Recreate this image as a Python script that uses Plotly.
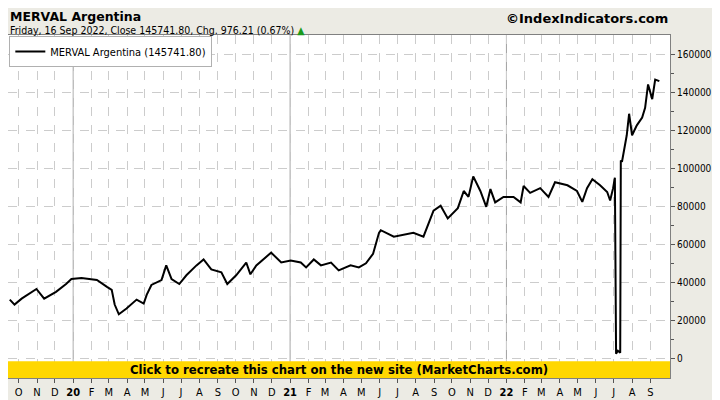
import plotly.graph_objects as go

# ── data ─────────────────────────────────────────────────────────────────────
dates = [
    "2019-09-16", "2019-09-24", "2019-10-06", "2019-10-31", "2019-11-13", "2019-12-03",
    "2019-12-20", "2019-12-29", "2020-01-15", "2020-02-10", "2020-02-27", "2020-03-06",
    "2020-03-11", "2020-03-18", "2020-03-31", "2020-04-17", "2020-04-29", "2020-05-04",
    "2020-05-12", "2020-05-29", "2020-06-06", "2020-06-15", "2020-06-28", "2020-07-10",
    "2020-07-27", "2020-08-08", "2020-08-21", "2020-09-07", "2020-09-17", "2020-10-02",
    "2020-10-19", "2020-10-26", "2020-11-05", "2020-11-17", "2020-11-30", "2020-12-17",
    "2021-01-02", "2021-01-19", "2021-01-28", "2021-02-10", "2021-02-22", "2021-03-11",
    "2021-03-24", "2021-04-13", "2021-04-27", "2021-05-09", "2021-05-21", "2021-05-31",
    "2021-06-03", "2021-06-25", "2021-07-28", "2021-08-14", "2021-08-31", "2021-09-12",
    "2021-09-24", "2021-10-11", "2021-10-21", "2021-10-29", "2021-11-06", "2021-11-18",
    "2021-11-28", "2021-12-05", "2021-12-13", "2021-12-27", "2022-01-13", "2022-01-25",
    "2022-01-30", "2022-02-10", "2022-02-27", "2022-03-13", "2022-03-24", "2022-04-14",
    "2022-04-30", "2022-05-09", "2022-05-17", "2022-05-26", "2022-06-08", "2022-06-20",
    "2022-06-25", "2022-06-30", "2022-07-03", "2022-07-05", "2022-07-08", "2022-07-12",
    "2022-07-13", "2022-07-15", "2022-07-23", "2022-07-27", "2022-08-01", "2022-08-09",
    "2022-08-18", "2022-08-23", "2022-08-28", "2022-09-04", "2022-09-09", "2022-09-16",
]
close = [
    30900, 28300, 31400, 36500, 31400, 35000,
    39100, 41700, 42200, 41200, 37600, 36000,
    28300, 23200, 26200, 30900, 28800, 33400,
    38600, 41200, 48900, 41700, 39100, 43700,
    48900, 52000, 46800, 45300, 39100, 43700,
    50400, 44200, 48900, 52000, 55600, 50400,
    51500, 50400, 47800, 52000, 48900, 50400,
    46300, 48900, 47800, 50000, 55000, 66000,
    67400, 64000, 66000, 64000, 77700, 80300,
    73600, 79000, 88000, 84900, 95700, 88000,
    79700, 89000, 82000, 84900, 84900, 82000,
    90600, 87000, 89500, 84900, 92600, 91000,
    88000, 82300, 89500, 94200, 91000, 87500,
    83000, 89500, 95000, 2500, 4000, 3000,
    104000, 103400, 117300, 128600, 117300, 122500,
    126600, 131700, 144000, 136300, 146600, 145741.8,
]

month_ticks = [
    "2019-10-01", "2019-11-01", "2019-12-01", "2020-01-01", "2020-02-01", "2020-03-01",
    "2020-04-01", "2020-05-01", "2020-06-01", "2020-07-01", "2020-08-01", "2020-09-01",
    "2020-10-01", "2020-11-01", "2020-12-01", "2021-01-01", "2021-02-01", "2021-03-01",
    "2021-04-01", "2021-05-01", "2021-06-01", "2021-07-01", "2021-08-01", "2021-09-01",
    "2021-10-01", "2021-11-01", "2021-12-01", "2022-01-01", "2022-02-01", "2022-03-01",
    "2022-04-01", "2022-05-01", "2022-06-01", "2022-07-01", "2022-08-01", "2022-09-01",
]
month_labels = [
    "O", "N", "D", "<b>20</b>", "F", "M", "A", "M", "J", "J", "A", "S",
    "O", "N", "D", "<b>21</b>", "F", "M", "A", "M", "J", "J", "A", "S",
    "O", "N", "D", "<b>22</b>", "F", "M", "A", "M", "J", "J", "A", "S",
]
year_starts = ["2020-01-01", "2021-01-01", "2022-01-01"]

FONT = "DejaVu Sans Condensed"
TOP = 27
PLOT_H = 392 - TOP - 22  # plot area height in px, used to place header texts

fig = go.Figure()
fig.add_trace(go.Scatter(
    x=dates, y=close, mode="lines",
    line=dict(color="#000000", width=2),
    name="MERVAL Argentina (145741.80)",
    showlegend=True,
))

for d in year_starts:
    fig.add_shape(type="line", x0=d, x1=d, y0=0, y1=1, yref="paper",
                  line=dict(color="#a0a0a0", width=1), layer="below")

# yellow banner at the bottom of the plot area
fig.add_shape(type="rect", xref="paper", yref="y", x0=0, x1=1, y0=-10300, y1=-1500,
              fillcolor="#ffd700", line=dict(width=0), layer="above")
fig.add_annotation(xref="paper", yref="y", x=0.5, y=-5900, showarrow=False,
                   text="<b>Click to recreate this chart on the new site (MarketCharts.com)</b>",
                   font=dict(family=FONT, size=13, color="#000000"))

fig.add_annotation(xref="paper", yref="paper", x=0, y=1 + (TOP + 1) / PLOT_H,
                   xanchor="left", yanchor="top",
                   showarrow=False, text="<b>MERVAL Argentina</b>",
                   font=dict(family="DejaVu Sans", size=12.5, color="#000000"))
fig.add_annotation(xref="paper", yref="paper", x=0, y=1 + (TOP - 14) / PLOT_H,
                   xanchor="left", yanchor="top",
                   showarrow=False,
                   text="Friday, 16 Sep 2022, Close 145741.80, Chg. 976.21 (0.67%) "
                        "<span style='color:#1a9a1a'>▲</span>",
                   font=dict(family=FONT, size=10.5, color="#000000"))
fig.add_annotation(xref="paper", yref="paper", x=1.0, y=1 + (TOP - 1) / PLOT_H,
                   xanchor="right", yanchor="top",
                   showarrow=False, text="<b>©IndexIndicators.com</b>",
                   font=dict(family="DejaVu Sans", size=13, color="#000000"))

fig.update_layout(
    width=712, height=392,
    paper_bgcolor="#ecebe4", plot_bgcolor="#ffffff",
    margin=dict(l=0, r=50, t=TOP, b=22),
    font=dict(family=FONT, size=11, color="#000000"),
    legend=dict(x=0.002, y=0.997, xanchor="left", yanchor="top",
                bgcolor="#ffffff", bordercolor="#b0b0b0", borderwidth=1,
                itemwidth=30, tracegroupgap=0,
                font=dict(family=FONT, size=11)),
    xaxis=dict(
        range=["2019-09-13", "2022-10-04"],
        tickvals=month_ticks, ticktext=month_labels,
        showgrid=True, gridcolor="#cccccc", griddash="dash", gridwidth=1,
        ticks="outside", ticklen=4, tickcolor="#555555",
        showline=True, linecolor="#808080", mirror=True, zeroline=False,
    ),
    yaxis=dict(
        side="right", range=[-10300, 170000], tickformat="d",
        tickvals=[0, 20000, 40000, 60000, 80000, 100000, 120000, 140000, 160000],
        showgrid=True, gridcolor="#cccccc", griddash="dash", gridwidth=1,
        ticks="outside", ticklen=4, tickcolor="#555555",
        minor=dict(tickvals=[10000, 30000, 50000, 70000, 90000, 110000, 130000, 150000],
                   ticks="outside", ticklen=3, tickcolor="#555555", showgrid=False),
        showline=True, linecolor="#808080", mirror=True, zeroline=False,
        tickfont=dict(size=10),
    ),
)

fig.write_html("out.html")
